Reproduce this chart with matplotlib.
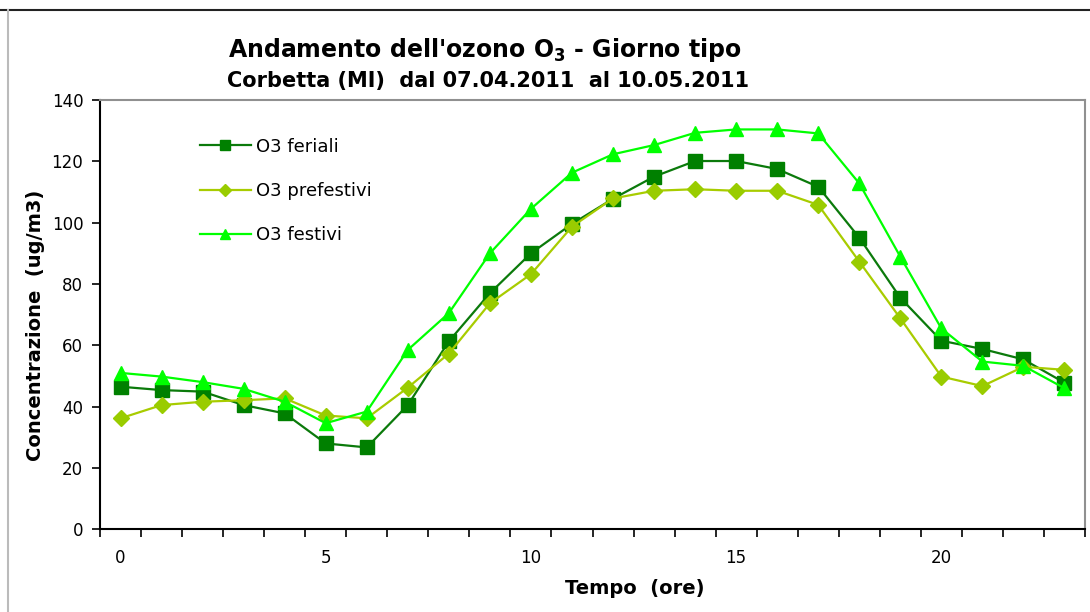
import matplotlib
matplotlib.use("Agg")
import matplotlib.pyplot as plt
from matplotlib.lines import Line2D
from matplotlib.ticker import MultipleLocator, FixedLocator

hours = list(range(24))
feriali = [46.5, 45.4, 44.9, 40.5, 37.8, 28.0, 26.7, 40.5, 61.3, 77.0, 90.0, 99.6,
           107.8, 115.0, 120.1, 120.1, 117.5, 111.7, 95.1, 75.5, 61.5, 58.8, 55.4, 47.8]
prefestivi = [36.2, 40.5, 41.6, 42.1, 42.7, 37.1, 36.2, 46.2, 57.3, 73.7, 83.2, 98.7,
              107.9, 110.4, 110.9, 110.4, 110.4, 105.8, 87.3, 68.8, 49.8, 46.7, 53.0, 52.0]
festivi = [51.0, 49.8, 48.0, 45.8, 41.6, 34.6, 38.4, 58.5, 70.5, 90.0, 104.5, 116.3,
           122.3, 125.3, 129.3, 130.4, 130.4, 129.1, 112.8, 88.9, 65.5, 54.7, 53.3, 46.0]
series_names = ["O3 feriali", "O3 prefestivi", "O3 festivi"]
x_tick_labels = ["0", "5", "10", "15", "20"]
x_tick_pos = [0, 5, 10, 15, 20]

plt.rcParams['font.family'] = ['DejaVu Sans']

fig = plt.figure(figsize=(10.9, 6.12), dpi=100)
ax = fig.add_axes([100/1090, 1-529.3/612, 985/1090, (529.3-100)/612])

ax.plot(hours, feriali, color="#0b7a0b", lw=1.6, marker="s", ms=9.5,
        mfc="#008000", mec="#008000", label=series_names[0], zorder=3)
ax.plot(hours, prefestivi, color="#a8cc00", lw=1.6, marker="D", ms=8,
        mfc="#99cc00", mec="#99cc00", label=series_names[1], zorder=3)
ax.plot(hours, festivi, color="#00ff00", lw=1.6, marker="^", ms=10.5,
        mfc="#00ff00", mec="#00ff00", label=series_names[2], zorder=3)

ax.set_xlim(-0.5, 23.5)
ax.set_ylim(0, 140)
ax.yaxis.set_major_locator(MultipleLocator(20))
ax.xaxis.set_major_locator(FixedLocator(x_tick_pos))
ax.set_xticklabels(x_tick_labels)
ax.xaxis.set_minor_locator(FixedLocator([h - 0.5 for h in hours] + [23.5]))
ax.tick_params(axis='x', which='major', length=0, pad=14, labelsize=12)
ax.tick_params(axis='x', which='minor', length=6, width=1.2, direction='out', color='black')
ax.tick_params(axis='y', which='major', length=6, width=1.2, direction='out', labelsize=12, pad=6)

for s in ['left', 'bottom']:
    ax.spines[s].set_color('black')
    ax.spines[s].set_linewidth(1.5)
for s in ['top', 'right']:
    ax.spines[s].set_color('#909090')
    ax.spines[s].set_linewidth(1.5)

ax.set_xlabel("Tempo  (ore)", fontsize=14, fontweight='bold')
ax.xaxis.set_label_coords(0.543, -0.115)
ax.set_ylabel("Concentrazione  (ug/m3)", fontsize=14, fontweight='bold')
ax.yaxis.set_label_coords(-0.056, 0.475)

ax.legend(loc='upper left', bbox_to_anchor=(0.085, 0.95), frameon=False,
          fontsize=13, handlelength=2.8, labelspacing=1.45, handletextpad=0.3,
          markerscale=0.75)

fig.text(485/1090, 1-50/612, r"Andamento dell'ozono O$_\mathbf{3}$ - Giorno tipo",
         ha='center', va='center', fontsize=17, fontweight='bold')
fig.text(488/1090, 1-81/612, "Corbetta (MI)  dal 07.04.2011  al 10.05.2011",
         ha='center', va='center', fontsize=15, fontweight='bold')

fig.add_artist(Line2D([0, 1], [1-9.5/612, 1-9.5/612], transform=fig.transFigure,
                      color='#222222', lw=1.5))
fig.add_artist(Line2D([7.5/1090, 7.5/1090], [0, 1-9.5/612], transform=fig.transFigure,
                      color='#bbbbbb', lw=1.5))

fig.savefig("out.png", dpi=100)
